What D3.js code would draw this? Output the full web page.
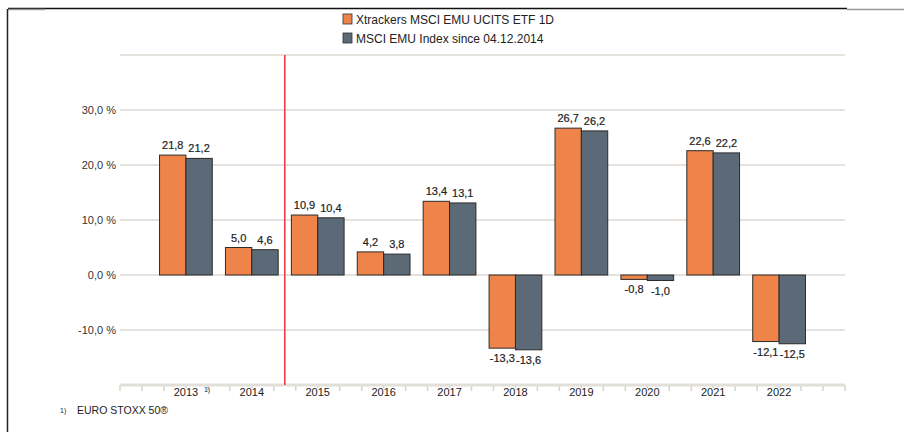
<!DOCTYPE html>
<html>
<head>
<meta charset="utf-8">
<script src="https://cdn.jsdelivr.net/npm/d3@7"></script>
<style>
  body { margin: 0; background: #fff; }
  svg { display: block; font-family: "Liberation Sans", Arial, sans-serif; }
</style>
</head>
<body>
<script>
var w = 904, h = 432;

var years = ["2013", "2014", "2015", "2016", "2017", "2018", "2019", "2020", "2021", "2022"];
var seriesNames = ["Xtrackers MSCI EMU UCITS ETF 1D", "MSCI EMU Index since 04.12.2014"];
var fundValues = [21.8, 5.0, 10.9, 4.2, 13.4, -13.3, 26.7, -0.8, 22.6, -12.1];
var indexValues = [21.2, 4.6, 10.4, 3.8, 13.1, -13.6, 26.2, -1.0, 22.2, -12.5];
var yTicks = [-10, 0, 10, 20, 30];
var gridValues = [-10, 0, 10, 20, 30, 40];
var colors = ["#ee844a", "#5b6a76"];

var svg = d3.select("body").append("svg")
            .attr("width", w)
            .attr("height", h);

// frame
svg.append("line").attr("x1", 8).attr("x2", 847).attr("y1", 8.5).attr("y2", 8.5)
   .attr("stroke", "#111").attr("stroke-width", 1.5);
svg.append("line").attr("x1", 847).attr("x2", 904).attr("y1", 9.5).attr("y2", 9.5)
   .attr("stroke", "#999").attr("stroke-width", 1.5);
svg.append("line").attr("x1", 8).attr("x2", 45).attr("y1", 9.5).attr("y2", 9.5)
   .attr("stroke", "#999").attr("stroke-width", 1.5);
svg.append("line").attr("x1", 7.5).attr("x2", 7.5).attr("y1", 9).attr("y2", h)
   .attr("stroke", "#222").attr("stroke-width", 1.5);

var x = d3.scaleBand().domain(years).range([120, 845])
          .paddingInner(0.2).paddingOuter(0.6);
var xs = d3.scaleBand().domain([0, 1]).range([0, x.bandwidth()]);
var y = d3.scaleLinear().domain([-20, 40]).range([385, 55]);

var fmt = function(v) { return d3.format(".1f")(v).replace(".", ",").replace("−", "-"); };

// grid
svg.selectAll(".grid").data(gridValues).enter().append("line")
   .attr("class", "grid")
   .attr("x1", 120).attr("x2", 845)
   .attr("y1", function(d) { return y(d); })
   .attr("y2", function(d) { return y(d); })
   .attr("stroke", "#dcd9d2").attr("stroke-width", 1.5);

svg.selectAll(".ylab").data(yTicks).enter().append("text")
   .attr("class", "ylab")
   .attr("x", 116)
   .attr("y", function(d) { return y(d) + 4; })
   .attr("text-anchor", "end")
   .attr("font-size", 11)
   .attr("fill", "#333")
   .text(function(d) { return fmt(d) + " %"; });

// axis
var step = x.step();
var tickPos = d3.range(0, 34).map(function(k) { return 120 + k * step / 3; });
svg.selectAll(".xtick").data(tickPos).enter().append("line")
   .attr("class", "xtick")
   .attr("x1", function(d) { return d; }).attr("x2", function(d) { return d; })
   .attr("y1", 385).attr("y2", 391)
   .attr("stroke", "#d6d3cc").attr("stroke-width", 1.5);
svg.append("line").attr("x1", 120).attr("x2", 845).attr("y1", 385).attr("y2", 385)
   .attr("stroke", "#e2dfd8").attr("stroke-width", 3);

var xl = svg.selectAll(".xlab").data(years).enter().append("g")
   .attr("class", "xlab")
   .attr("transform", function(d) { return "translate(" + (x(d) + x.bandwidth() / 2) + ",396)"; });
xl.append("rect").attr("x", -14).attr("y", -8).attr("width", 28).attr("height", 10).attr("fill", "#fff");
xl.append("text")
  .attr("text-anchor", "middle")
  .attr("font-size", 11)
  .attr("fill", "#222")
  .text(function(d) { return d; });
svg.append("text")
   .attr("x", x("2013") + x.bandwidth() / 2 + 18).attr("y", 392)
   .attr("font-size", 7).attr("fill", "#222").text("1)");

// bars
var data = years.map(function(yr, i) { return {year: yr, vals: [fundValues[i], indexValues[i]]}; });
var groups = svg.selectAll(".yr").data(data).enter().append("g")
   .attr("class", "yr")
   .attr("transform", function(d) { return "translate(" + x(d.year) + ",0)"; });
var bars = groups.selectAll(".bar")
   .data(function(d) { return d.vals.map(function(v, j) { return {v: v, j: j}; }); })
   .enter();
bars.append("rect")
   .attr("class", "bar")
   .attr("x", function(d) { return xs(d.j); })
   .attr("width", xs.bandwidth())
   .attr("y", function(d) { return y(Math.max(0, d.v)); })
   .attr("height", function(d) { return Math.abs(y(d.v) - y(0)); })
   .attr("fill", function(d) { return colors[d.j]; })
   .attr("stroke", "#2b2b2b").attr("stroke-width", 1);
bars.append("text")
   .attr("x", function(d) { return xs(d.j) + xs.bandwidth() / 2; })
   .attr("y", function(d) { return d.v >= 0 ? y(d.v) - 6 : y(d.v) + 14; })
   .attr("text-anchor", "middle")
   .attr("font-size", 11)
   .attr("fill", "#222")
   .attr("stroke", "#222").attr("stroke-width", 0.2)
   .text(function(d) { return fmt(d.v); });

// red separator between 2014 and 2015
var sepX = (x("2014") + x("2015") + x.bandwidth()) / 2;
svg.append("line").attr("x1", sepX).attr("x2", sepX).attr("y1", 55).attr("y2", 385)
   .attr("stroke", "#e8373c").attr("stroke-width", 1.5);

// legend
var leg = svg.selectAll(".legend").data(seriesNames).enter().append("g")
   .attr("class", "legend")
   .attr("transform", function(d, i) { return "translate(343," + (14 + i * 19) + ")"; });
leg.append("rect").attr("width", 9).attr("height", 10)
   .attr("fill", function(d, i) { return colors[i]; })
   .attr("stroke", "#333").attr("stroke-width", 0.8);
leg.append("text").attr("x", 13).attr("y", 9.5)
   .attr("font-size", 12).attr("fill", "#222")
   .text(function(d) { return d; });

// footnote
svg.append("text").attr("x", 60).attr("y", 413).attr("font-size", 7).attr("fill", "#222").text("1)");
svg.append("text").attr("x", 77).attr("y", 414).attr("font-size", 10.5).attr("fill", "#222").text("EURO STOXX 50®");
</script>
</body>
</html>
